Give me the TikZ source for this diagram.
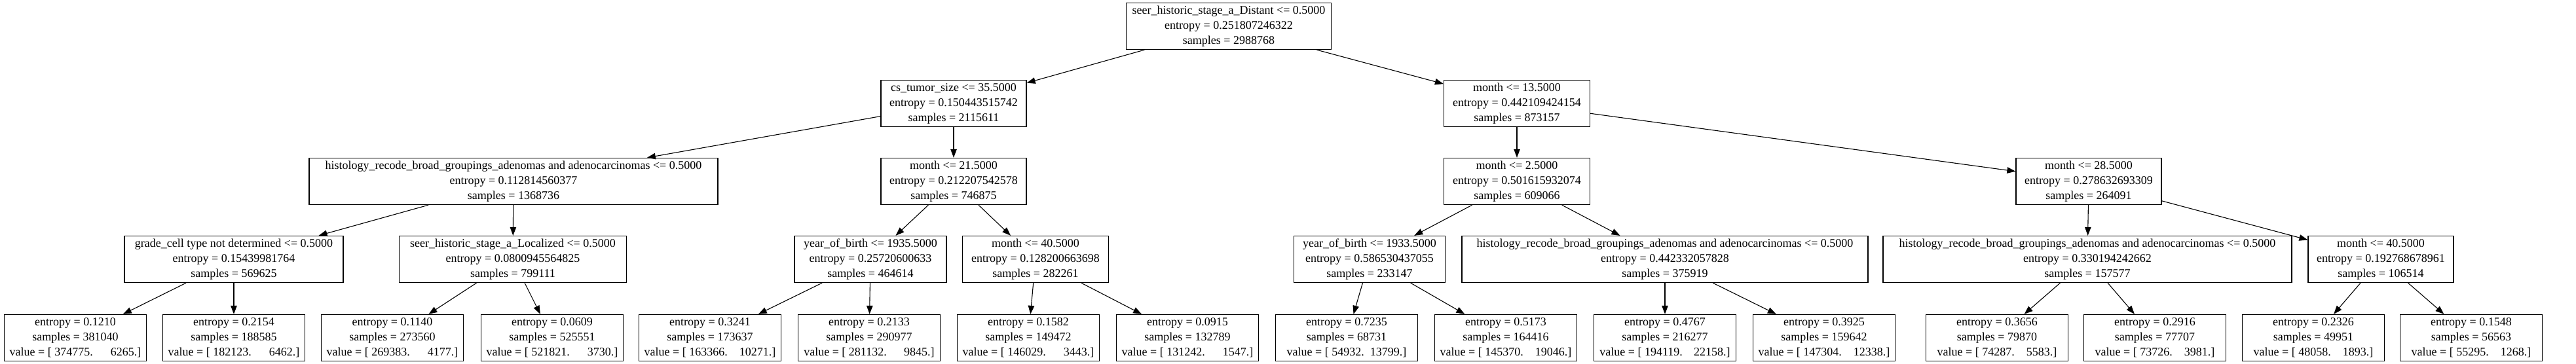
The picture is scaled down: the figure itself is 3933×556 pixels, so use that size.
\documentclass[tikz,border=0pt]{standalone}
\usepackage{fontspec}
\setmainfont{Liberation Serif}
\usetikzlibrary{arrows.meta}
\tikzset{split/.style={draw, line width=1.3pt, fill=white, align=center, minimum height=71pt, inner sep=2pt}}
\tikzset{leaf/.style={split, minimum width=217pt}}
\tikzset{edge/.style={line width=1.1pt, -{Triangle[length=13pt, width=9.5pt]}}}
\newcommand{\hist}{histology\_recode\_broad\_groupings\_adenomas and adenocarcinomas}

\begin{document}
\begin{tikzpicture}[
  x=1pt,y=-1pt,
  font=\fontsize{18}{23}\selectfont
]
  \useasboundingbox (0,0) rectangle (3933,556);

  % depth 0 and 1
  \node[split, minimum width=313pt] (root) at (1876,40)
    {seer\_historic\_stage\_a\_Distant <= 0.5000\\entropy = 0.251807246322\\samples = 2988768};
  \node[split, minimum width=222pt] (cs) at (1456,158)
    {cs\_tumor\_size <= 35.5000\\entropy = 0.150443515742\\samples = 2115611};
  \node[split, minimum width=223pt] (m13) at (2316,158)
    {month <= 13.5000\\entropy = 0.442109424154\\samples = 873157};

  % depth 2
  \node[split, minimum width=624pt] (histL) at (784,277)
    {\hist{} <= 0.5000\\entropy = 0.112814560377\\samples = 1368736};
  \node[split, minimum width=222pt] (m21) at (1456,277)
    {month <= 21.5000\\entropy = 0.212207542578\\samples = 746875};
  \node[split, minimum width=223pt] (m2) at (2316,277)
    {month <= 2.5000\\entropy = 0.501615932074\\samples = 609066};
  \node[split, minimum width=222pt] (m28) at (3189,277)
    {month <= 28.5000\\entropy = 0.278632693309\\samples = 264091};

  % depth 3
  \node[split, minimum width=334pt] (grade) at (357,396)
    {grade\_cell type not determined <= 0.5000\\entropy = 0.15439981764\\samples = 569625};
  \node[split, minimum width=347pt] (seerL) at (783,396)
    {seer\_historic\_stage\_a\_Localized <= 0.5000\\entropy = 0.0800945564825\\samples = 799111};
  \node[split, minimum width=232pt] (yob35) at (1329,396)
    {year\_of\_birth <= 1935.5000\\entropy = 0.25720600633\\samples = 464614};
  \node[split, minimum width=223pt] (m40a) at (1581,396)
    {month <= 40.5000\\entropy = 0.128200663698\\samples = 282261};
  \node[split, minimum width=231pt] (yob33) at (2091,396)
    {year\_of\_birth <= 1933.5000\\entropy = 0.586530437055\\samples = 233147};
  \node[split, minimum width=620pt] (histR) at (2542,396)
    {\hist{} <= 0.5000\\entropy = 0.442332057828\\samples = 375919};
  \node[split, minimum width=624pt] (hist3) at (3187,396)
    {\hist{} <= 0.5000\\entropy = 0.330194242662\\samples = 157577};
  \node[split, minimum width=222pt] (m40b) at (3635,396)
    {month <= 40.5000\\entropy = 0.192768678961\\samples = 106514};

  % leaves
  \foreach \n/\x/\e/\s/\va/\vb in {
      l1/115/0.1210/381040/374775./6265.,
      l2/357/0.2154/188585/182123./6462.,
      l3/599/0.1140/273560/269383./4177.,
      l4/843/0.0609/525551/521821./3730.,
      l5/1084/0.3241/173637/163366./10271.,
      l6/1327/0.2133/290977/281132./9845.,
      l7/1570/0.1582/149472/146029./3443.,
      l8/1813/0.0915/132789/131242./1547.,
      l9/2056/0.7235/68731/54932./13799.,
      l10/2299/0.5173/164416/145370./19046.,
      l11/2542/0.4767/216277/194119./22158.,
      l12/2785/0.3925/159642/147304./12338.,
      l13/3049/0.3656/79870/74287./5583.,
      l14/3290/0.2916/77707/73726./3981.,
      l15/3532/0.2326/49951/48058./1893.,
      l16/3773/0.1548/56563/55295./1268.} {
    \node[leaf] (\n) at (\x,516)
      {entropy = \e\\samples = \s\\value = [\ \va\ \ \phantom{\va}\llap{\vb}]};
  }

  \foreach \a/\b in {root/cs, root/m13, cs/histL, cs/m21, m13/m2, m13/m28,
                     histL/grade, histL/seerL, m21/yob35, m21/m40a,
                     m2/yob33, m2/histR, m28/hist3, m28/m40b,
                     grade/l1, grade/l2, seerL/l3, seerL/l4, yob35/l5, yob35/l6,
                     m40a/l7, m40a/l8, yob33/l9, yob33/l10, histR/l11, histR/l12,
                     hist3/l13, hist3/l14, m40b/l15, m40b/l16}
    \draw[edge] (\a) -- (\b);
\end{tikzpicture}
\end{document}
